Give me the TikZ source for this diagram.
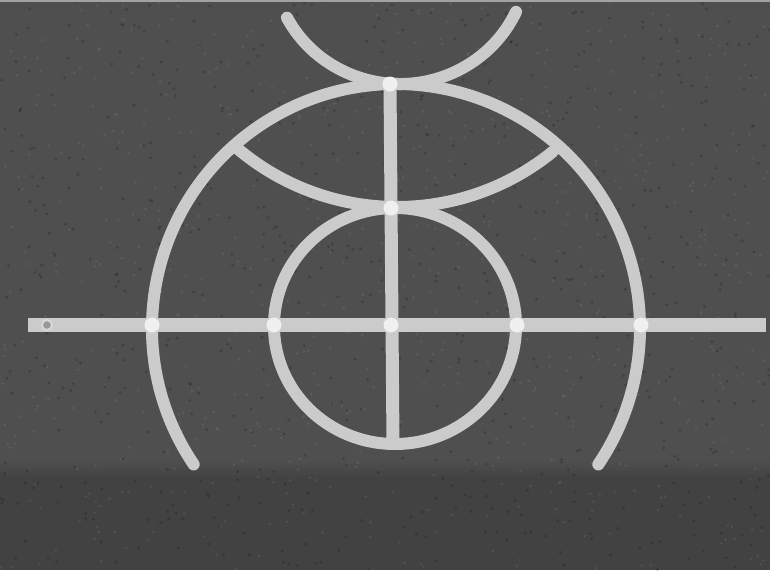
\documentclass[tikz,border=0pt]{standalone}
\usetikzlibrary{calc}
\definecolor{felt}{HTML}{4F4F4F}
\definecolor{feltlow}{HTML}{424242}
\definecolor{chalk}{HTML}{CBCBCB}
\definecolor{dotc}{HTML}{F0F0F0}
\tikzset{
  chalkarc/.style={draw=chalk, line width=12pt, line cap=round},
  chalkbar/.style={draw=chalk, line width=14pt, line cap=butt},
  pin/.style={circle, fill=dotc, inner sep=0pt, minimum size=15pt},
  smallring/.style={circle, draw=dotc!90!black, line width=2pt, fill=chalk!75!black, inner sep=0pt, minimum size=10pt}
}
\begin{document}
\begin{tikzpicture}[x=1pt, y=-1pt]
\useasboundingbox (0,0) rectangle (770,570);
% background felt
\fill[felt] (0,0) rectangle (770,470);
\fill[feltlow] (0,470) rectangle (770,570);
\shade[top color=felt, bottom color=feltlow] (0,460) rectangle (770,478);
% felt speckle
\pgfmathsetseed{11}
\foreach \i in {1,...,1400}{
  \pgfmathsetmacro{\px}{770*rnd}
  \pgfmathsetmacro{\py}{570*rnd}
  \pgfmathsetmacro{\pg}{rnd}
  \ifdim\pg pt<0.5pt
    \fill[black, opacity=0.18] (\px,\py) circle[radius=1.6];
  \else
    \fill[white, opacity=0.08] (\px,\py) circle[radius=1.4];
  \fi
}
\draw[chalk!80!black, line width=2pt] (0,1) -- (770,1);

% coordinates
\coordinate (hl) at (28,325);
\coordinate (hr) at (766,325);
\coordinate (vt) at (390,84);
\coordinate (vb) at (393,444);

% horizontal and vertical bars
\draw[chalkbar] (hl) -- (hr);
\draw[chalkbar, line width=13pt] (vt) -- (vb);

% large open arc
\coordinate (bigc) at (396,328);
\draw[chalkarc] (bigc) ++(146:244) arc[start angle=146, end angle=394, radius=244];

% small circle
\coordinate (smc) at (395,326);
\draw[chalkarc] (smc) ellipse[x radius=121, y radius=118];

% middle crescent
\coordinate (midc) at (397,-40);
\draw[chalkarc] (midc) ++(130:247) arc[start angle=130, end angle=51, radius=247];

% top crescent (horns)
\coordinate (topc) at (400,-41);
\draw[chalkarc] (topc) ++(152:{128} and {125}) arc[start angle=152, end angle=25, x radius=128, y radius=125];

% pins
\node[pin] (p1) at (390,84) {};
\node[pin] (p2) at (391,208) {};
\node[pin] (p3) at (391,325) {};
\node[pin] (p4) at (152,325) {};
\node[pin] (p5) at (274,325) {};
\node[pin] (p6) at (517,325) {};
\node[pin] (p7) at (641,325) {};
\node[smallring] (p0) at (47,325) {};
\end{tikzpicture}
\end{document}
